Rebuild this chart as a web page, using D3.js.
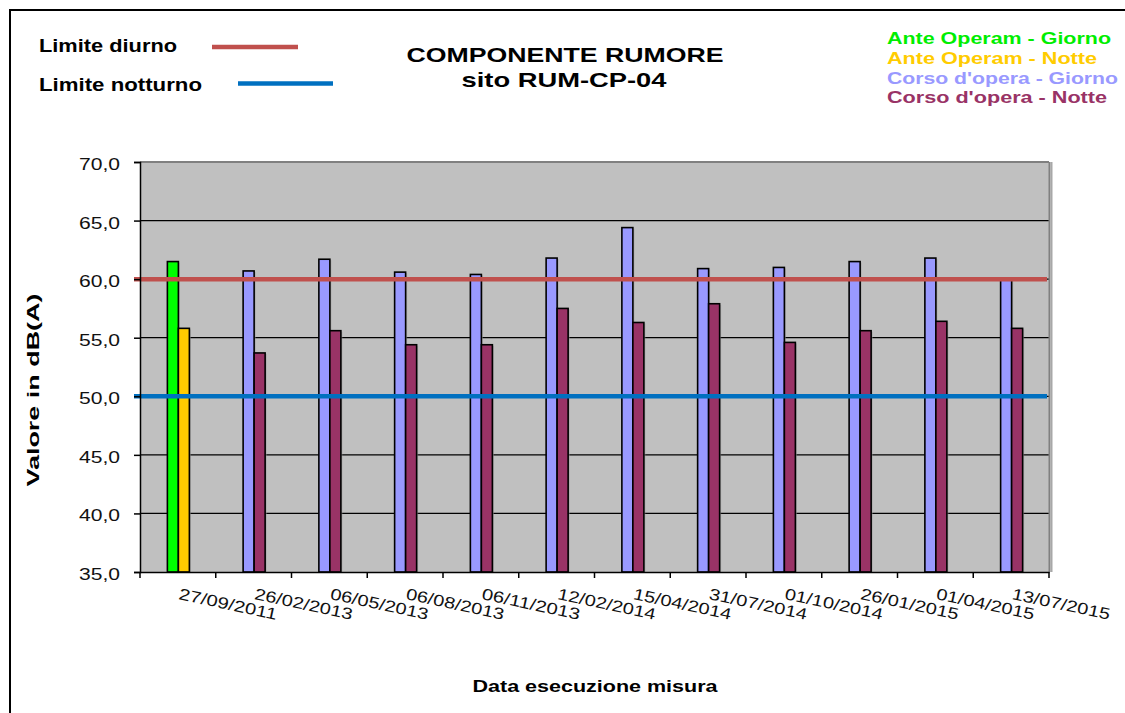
<!DOCTYPE html>
<html>
<head>
<meta charset="utf-8">
<script src="https://cdn.jsdelivr.net/npm/d3@7"></script>
<style>
  body { margin: 0; background: #fff; }
  svg { display: block; font-family: "Liberation Sans", Arial, sans-serif; }
</style>
</head>
<body>
<div id="chart"></div>
<script>
// Dates of the measures
var dates = ["27/09/2011", "26/02/2013", "06/05/2013", "06/08/2013", "06/11/2013", "12/02/2014",
             "15/04/2014", "31/07/2014", "01/10/2014", "26/01/2015", "01/04/2015", "13/07/2015"];

// Values in dB(A)
var anteGiorno  = [61.5, null, null, null, null, null, null, null, null, null, null, null];
var anteNotte   = [55.8, null, null, null, null, null, null, null, null, null, null, null];
var corsoGiorno = [null, 60.7, 61.7, 60.6, 60.4, 61.8, 64.4, 60.9, 61.0, 61.5, 61.8, 60.0];
var corsoNotte  = [null, 53.7, 55.6, 54.4, 54.4, 57.5, 56.3, 57.9, 54.6, 55.6, 56.4, 55.8];

var limiteDiurno = 60;
var limiteNotturno = 50;
var yTicks = [35, 40, 45, 50, 55, 60, 65, 70];

var width = 1125, height = 713;
var plot = {left: 140, right: 1049, top: 162, bottom: 572};

var svg = d3.select("#chart")
  .append("svg")
  .attr("width", width)
  .attr("height", height);

// stretch text to a given width (the original is wide)
function fit(sel, w) {
  sel.attr("textLength", w).attr("lengthAdjust", "spacingAndGlyphs");
}

// outer frame
svg.append("rect")
  .attr("x", 10).attr("y", 10)
  .attr("width", 1200).attr("height", 800)
  .attr("fill", "none")
  .attr("stroke", "#000")
  .attr("stroke-width", 2);

var x = d3.scaleBand()
  .domain(dates)
  .range([plot.left, plot.right])
  .padding(0);

var bw = x.bandwidth();
var xSub = d3.scaleBand()
  .domain(["giorno", "notte"])
  .range([bw / 2 - 10.5, bw / 2 + 11.5]);

var y = d3.scaleLinear()
  .domain([35, 70])
  .range([plot.bottom, plot.top]);

// plot background
svg.append("rect")
  .attr("x", plot.left).attr("y", plot.top)
  .attr("width", plot.right - plot.left)
  .attr("height", plot.bottom - plot.top)
  .attr("fill", "#c0c0c0");

// gridlines
svg.append("g")
  .selectAll("line")
  .data(yTicks.slice(1))
  .enter().append("line")
  .attr("x1", plot.left).attr("x2", plot.right)
  .attr("y1", function(d) { return y(d); })
  .attr("y2", function(d) { return y(d); })
  .attr("stroke", function(d) { return d == 70 ? "#808080" : "#000"; })
  .attr("stroke-width", function(d) { return d == 70 ? 2 : 1.2; });

// right border of plot area
svg.append("line")
  .attr("x1", plot.right + 0.5).attr("x2", plot.right + 0.5)
  .attr("y1", plot.top).attr("y2", plot.bottom)
  .attr("stroke", "#808080").attr("stroke-width", 2);
svg.append("line")
  .attr("x1", plot.right + 2.5).attr("x2", plot.right + 2.5)
  .attr("y1", plot.top).attr("y2", plot.bottom)
  .attr("stroke", "#a8a8a8").attr("stroke-width", 2);

// bars
var series = [
  {values: anteGiorno,  slot: "giorno", color: "#00ff00"},
  {values: anteNotte,   slot: "notte",  color: "#ffcc00"},
  {values: corsoGiorno, slot: "giorno", color: "#9999ff"},
  {values: corsoNotte,  slot: "notte",  color: "#993366"}
];

series.forEach(function(s) {
  var pts = s.values.map(function(v, i) { return {date: dates[i], v: v}; })
    .filter(function(d) { return d.v != null; });

  // soft shadow
  svg.append("g")
    .selectAll("rect")
    .data(pts)
    .enter().append("rect")
    .attr("x", function(d) { return x(d.date) + xSub(s.slot) + 1.5; })
    .attr("y", function(d) { return y(d.v) + 1; })
    .attr("width", xSub.bandwidth())
    .attr("height", function(d) { return y(35) - y(d.v) - 1; })
    .attr("fill", "#9a9a9a")
    .attr("opacity", 0.6);

  svg.append("g")
    .selectAll("rect")
    .data(pts)
    .enter().append("rect")
    .attr("x", function(d) { return x(d.date) + xSub(s.slot); })
    .attr("y", function(d) { return y(d.v); })
    .attr("width", xSub.bandwidth())
    .attr("height", function(d) { return y(35) - y(d.v); })
    .attr("fill", s.color)
    .attr("stroke", "#000")
    .attr("stroke-width", 1.6);
});

// limit lines
var limits = [
  {v: limiteDiurno, color: "#c0504d"},
  {v: limiteNotturno, color: "#0070c0"}
];
svg.append("g")
  .selectAll("line")
  .data(limits)
  .enter().append("line")
  .attr("x1", plot.left - 6).attr("x2", plot.right - 2)
  .attr("y1", function(d) { return y(d.v); })
  .attr("y2", function(d) { return y(d.v); })
  .attr("stroke", function(d) { return d.color; })
  .attr("stroke-width", 4.5);

// y axis
var yAxis = svg.append("g")
  .attr("transform", "translate(" + plot.left + ",0)")
  .call(d3.axisLeft(y)
    .tickValues(yTicks)
    .tickSize(6)
    .tickFormat(function(d) { return d3.format(".1f")(d).replace(".", ","); }));
yAxis.select(".domain").attr("stroke", "#000").attr("stroke-width", 1.5);
yAxis.selectAll(".tick line").attr("stroke", "#000").attr("stroke-width", 1.5);
yAxis.selectAll(".tick text")
  .attr("x", -20)
  .attr("dy", "0.47em")
  .attr("font-size", 16)
  .attr("fill", "#111")
  .call(fit, 41);

// x axis
var xAxis = svg.append("g")
  .attr("transform", "translate(0," + plot.bottom + ")")
  .call(d3.axisBottom(x).tickSize(0).tickFormat(""));
xAxis.select(".domain").attr("stroke", "#000").attr("stroke-width", 1.5);

// ticks on category boundaries
svg.append("g")
  .selectAll("line")
  .data(dates.concat(["end"]))
  .enter().append("line")
  .attr("x1", function(d, i) { return plot.left + i * bw; })
  .attr("x2", function(d, i) { return plot.left + i * bw; })
  .attr("y1", plot.bottom).attr("y2", plot.bottom + 6)
  .attr("stroke", "#000").attr("stroke-width", 1.5);

// rotated date labels
svg.append("g")
  .selectAll("text")
  .data(dates)
  .enter().append("text")
  .attr("transform", function(d) {
    return "translate(" + (x(d) + bw / 2) + ",599) rotate(12)";
  })
  .attr("font-size", 16)
  .attr("fill", "#111")
  .text(function(d) { return d; })
  .call(fit, 100);

// axis titles
svg.append("text")
  .attr("transform", "translate(39,390) rotate(-90)")
  .attr("text-anchor", "middle")
  .attr("font-size", 17)
  .attr("font-weight", "bold")
  .text("Valore in dB(A)")
  .call(fit, 193);

svg.append("text")
  .attr("x", 595).attr("y", 692)
  .attr("text-anchor", "middle")
  .attr("font-size", 16)
  .attr("font-weight", "bold")
  .text("Data esecuzione misura")
  .call(fit, 245);

// title
svg.append("text")
  .attr("x", 565).attr("y", 62)
  .attr("text-anchor", "middle")
  .attr("font-size", 21)
  .attr("font-weight", "bold")
  .text("COMPONENTE RUMORE")
  .call(fit, 317);
svg.append("text")
  .attr("x", 564).attr("y", 87)
  .attr("text-anchor", "middle")
  .attr("font-size", 21)
  .attr("font-weight", "bold")
  .text("sito RUM-CP-04")
  .call(fit, 205);

// limit legend
var limLegend = [
  {label: "Limite diurno", y: 52, w: 138, x1: 212, x2: 298, ly: 47, color: "#c0504d"},
  {label: "Limite notturno", y: 91, w: 163, x1: 238, x2: 333, ly: 83.5, color: "#0070c0"}
];
limLegend.forEach(function(d) {
  svg.append("text")
    .attr("x", 39).attr("y", d.y)
    .attr("font-size", 19)
    .attr("font-weight", "bold")
    .text(d.label)
    .call(fit, d.w);
  svg.append("line")
    .attr("x1", d.x1).attr("x2", d.x2)
    .attr("y1", d.ly).attr("y2", d.ly)
    .attr("stroke", d.color)
    .attr("stroke-width", 4.5);
});

// series legend
var serLegend = [
  {label: "Ante Operam - Giorno", y: 44, w: 224, color: "#00ee00"},
  {label: "Ante Operam - Notte", y: 64, w: 210, color: "#ffcc00"},
  {label: "Corso d'opera - Giorno", y: 84, w: 231, color: "#9999ff"},
  {label: "Corso d'opera - Notte", y: 103, w: 220, color: "#993366"}
];
svg.append("g")
  .selectAll("text")
  .data(serLegend)
  .enter().append("text")
  .attr("x", 887)
  .attr("y", function(d) { return d.y; })
  .attr("font-size", 16)
  .attr("font-weight", "bold")
  .attr("fill", function(d) { return d.color; })
  .text(function(d) { return d.label; })
  .each(function(d) { d3.select(this).call(fit, d.w); });
</script>
</body>
</html>
